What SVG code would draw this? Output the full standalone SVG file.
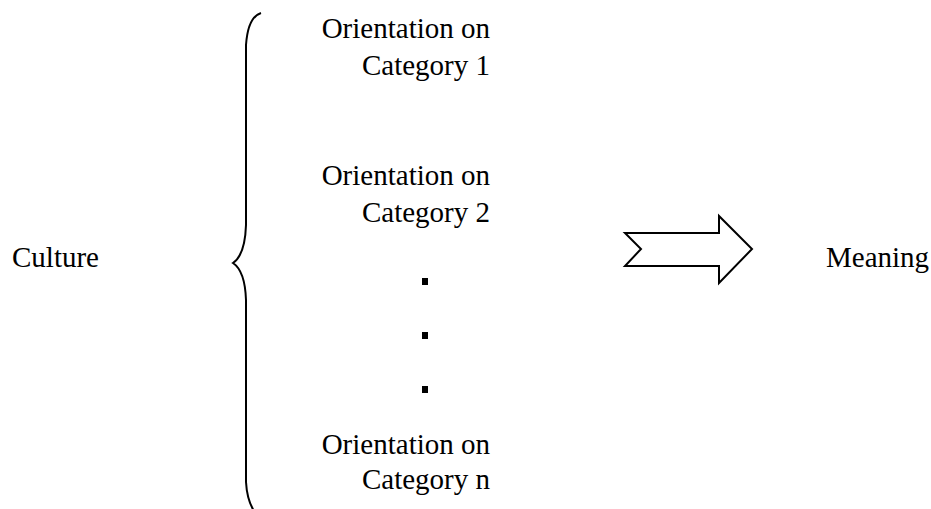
<svg xmlns="http://www.w3.org/2000/svg" width="931" height="509" viewBox="0 0 931 509">
<style>
text{font-family:"Liberation Serif","Times New Roman",serif;font-size:29px;fill:#000}
.r{text-anchor:end}
.ln{fill:none;stroke:#000;stroke-width:2}
</style>
<rect width="931" height="509" fill="#fff"/>
<g id="culture"><text x="12" y="267">Culture</text></g>
<g id="brace"><path class="ln" d="M261,13 Q248,17 246,45 L246,225 Q245,255 233,263 Q245,271 246,300 L246,482 Q247,500 254,511"/></g>
<g id="cat1"><text class="r" x="490" y="38">Orientation on</text><text class="r" x="490" y="75">Category 1</text></g>
<g id="cat2"><text class="r" x="490" y="185">Orientation on</text><text class="r" x="490" y="222">Category 2</text></g>
<g id="dots"><rect x="422" y="278" width="6" height="7"/><rect x="422" y="332" width="6" height="7"/><rect x="422" y="386" width="6" height="7"/></g>
<g id="catn"><text class="r" x="490" y="454">Orientation on</text><text class="r" x="490" y="489">Category n</text></g>
<g id="connectors"><path class="ln" d="M625,233 L719,233 L719,216 L752,249 L719,283 L719,266 L625,266 L641,249 Z"/></g>
<g id="meaning"><text x="826" y="267">Meaning</text></g>
</svg>
